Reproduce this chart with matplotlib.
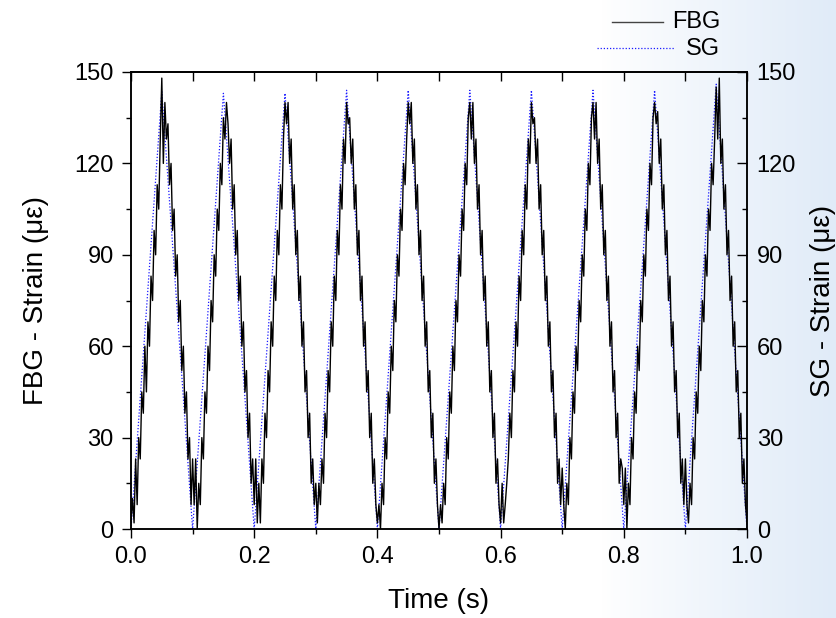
import numpy as np
import matplotlib
matplotlib.use("Agg")
import matplotlib.pyplot as plt
from matplotlib.lines import Line2D
from matplotlib.ticker import MultipleLocator

plt.rcParams['font.family'] = ['Liberation Sans', 'DejaVu Sans']

fbg_strain = [
    2, 10, 2, 23, 8, 30, 23, 45, 38, 60, 45, 68, 60, 83, 75, 98, 90, 113, 105, 128,
    148, 120, 140, 128, 133, 113, 120, 98, 105, 83, 90, 68, 75, 52, 60, 38, 45, 23, 30, 8,
    23, 8, 23, 0, 15, 8, 30, 23, 45, 38, 60, 52, 75, 68, 90, 83, 105, 98, 120, 113,
    135, 128, 140, 133, 120, 128, 105, 113, 90, 98, 75, 83, 60, 68, 45, 52, 30, 38, 15, 23,
    8, 23, 2, 15, 2, 23, 15, 38, 30, 52, 45, 68, 60, 83, 75, 98, 90, 113, 105, 128,
    140, 133, 140, 120, 128, 105, 113, 90, 98, 75, 83, 60, 68, 45, 52, 30, 38, 15, 23, 8,
    15, 2, 15, 8, 23, 15, 38, 30, 52, 45, 68, 60, 83, 75, 98, 90, 113, 105, 128, 120,
    140, 133, 135, 120, 128, 105, 113, 90, 98, 75, 83, 60, 68, 45, 52, 30, 38, 15, 23, 8,
    2, 8, 0, 15, 8, 30, 23, 45, 38, 60, 52, 75, 68, 90, 83, 105, 98, 120, 113, 128,
    140, 133, 140, 120, 128, 105, 113, 90, 98, 75, 83, 60, 68, 45, 52, 30, 38, 15, 23, 8,
    0, 8, 2, 15, 8, 30, 23, 45, 38, 60, 52, 75, 68, 90, 83, 105, 98, 120, 113, 135,
    140, 128, 140, 120, 128, 105, 113, 90, 98, 75, 83, 60, 68, 45, 52, 30, 38, 15, 23, 8,
    2, 15, 2, 8, 15, 23, 38, 30, 52, 45, 68, 60, 83, 75, 98, 90, 113, 105, 128, 120,
    140, 133, 135, 120, 128, 105, 113, 90, 98, 75, 83, 60, 68, 45, 52, 30, 38, 15, 23, 8,
    20, 8, 0, 15, 8, 30, 23, 45, 38, 60, 52, 75, 68, 90, 83, 105, 98, 120, 113, 135,
    140, 128, 140, 120, 128, 105, 113, 90, 98, 75, 83, 60, 68, 45, 52, 30, 38, 15, 23, 20,
    8, 20, 0, 15, 8, 30, 23, 45, 38, 60, 52, 75, 68, 90, 83, 105, 98, 120, 113, 135,
    140, 133, 137, 120, 128, 105, 113, 90, 98, 75, 83, 60, 68, 45, 52, 30, 38, 15, 23, 8,
    23, 8, 2, 15, 8, 30, 23, 45, 38, 60, 52, 75, 68, 90, 83, 105, 98, 120, 113, 128,
    145, 128, 148, 120, 128, 105, 113, 90, 98, 75, 83, 60, 68, 45, 52, 30, 38, 15, 23, 8,
    2,
]
fbg_time = np.linspace(0.0, 1.0, len(fbg_strain))

# SG strain at the turning points of the triangle wave
sg_time = [0.0, 0.05, 0.1, 0.15, 0.2, 0.25, 0.3, 0.35, 0.4, 0.45, 0.5,
           0.55, 0.6, 0.65, 0.7, 0.75, 0.8, 0.85, 0.9, 0.95, 1.0]
sg_strain = [0, 143.5, 0, 143, 0, 143, 0, 144, 0, 144, 0,
             144, 0, 144, 0, 144, 0, 144, 0, 146, 0]

W, H = 837, 618
fig = plt.figure(figsize=(W / 100, H / 100), dpi=100)

# light blue backdrop fading in on the right side
xx = np.linspace(0, 1, 400)
yy = np.linspace(0, 1, 300)
X, Y = np.meshgrid(xx, yy)
f = np.clip((X - 0.72) / 0.28, 0, 1) ** 0.9
white = np.array([1.0, 1.0, 1.0])
blue = np.array([224, 235, 248]) / 255
grad = white[None, None, :] * (1 - f[..., None]) + blue[None, None, :] * f[..., None]
bg = fig.add_axes([0, 0, 1, 1], zorder=-10)
bg.imshow(grad, aspect='auto', extent=[0, 1, 0, 1], origin='upper')
bg.axis('off')

L, R, T, B = 131, 747, 72, 529
ax = fig.add_axes([L / W, 1 - B / H, (R - L) / W, (B - T) / H])
ax.patch.set_alpha(0)

ax.plot(fbg_time, fbg_strain, color='black', lw=1.0, zorder=3)
ax.plot(sg_time, sg_strain, color='#1a1aff', lw=0.9, ls=(0, (1, 1.5)), zorder=2)

ax.set_xlim(0, 1.0)
ax.set_ylim(0, 150)
ax.xaxis.set_major_locator(MultipleLocator(0.2))
ax.xaxis.set_minor_locator(MultipleLocator(0.1))
ax.yaxis.set_major_locator(MultipleLocator(30))
ax.yaxis.set_minor_locator(MultipleLocator(15))
ax.set_xticks([0, 0.2, 0.4, 0.6, 0.8, 1.0])
ax.set_xticklabels(['0.0', '0.2', '0.4', '0.6', '0.8', '1.0'])

for s in ax.spines.values():
    s.set_linewidth(1.1)

ax.tick_params(which='major', direction='out', length=6.5, width=1.0, labelsize=17, pad=6)
ax.tick_params(which='minor', direction='out', length=3.5, width=1.0)
ax.tick_params(top=False, right=False)

ax.set_xlabel('Time (s)', fontsize=20, labelpad=14)
ax.set_ylabel('FBG - Strain (\u03bc\u03b5)', fontsize=20, labelpad=18)

# top axis: inward ticks, no labels
top = ax.secondary_xaxis('top')
top.xaxis.set_major_locator(MultipleLocator(0.2))
top.xaxis.set_minor_locator(MultipleLocator(0.1))
top.tick_params(which='both', direction='in', labeltop=False)
top.tick_params(which='major', length=6.5, width=1.0)
top.tick_params(which='minor', length=6.5, width=1.0)
top.spines['top'].set_linewidth(1.1)

# right axis for SG
ax2 = ax.twinx()
ax2.patch.set_alpha(0)
ax2.set_ylim(0, 150)
ax2.yaxis.set_major_locator(MultipleLocator(30))
ax2.yaxis.set_minor_locator(MultipleLocator(15))
ax2.tick_params(which='major', direction='in', length=7, width=1.0, labelsize=17, pad=7)
ax2.tick_params(which='minor', direction='in', length=3.5, width=1.0)
for s in ax2.spines.values():
    s.set_linewidth(1.1)
ax2.set_ylabel('SG - Strain (\u03bc\u03b5)', fontsize=20, labelpad=10)

# legend drawn above the plot, top right
fig.add_artist(Line2D([612 / W, 663 / W], [1 - 22 / H, 1 - 22 / H], color='#444444', lw=1.0))
fig.add_artist(Line2D([597 / W, 674 / W], [1 - 48 / H, 1 - 48 / H], color='#1a1aff', lw=0.9,
                      ls=(0, (1, 1.5))))
fig.text(720 / W, 1 - 22 / H, 'FBG', ha='right', va='center', fontsize=17)
fig.text(720 / W, 1 - 49 / H, 'SG', ha='right', va='center', fontsize=17)

fig.savefig('out.png', dpi=100)
